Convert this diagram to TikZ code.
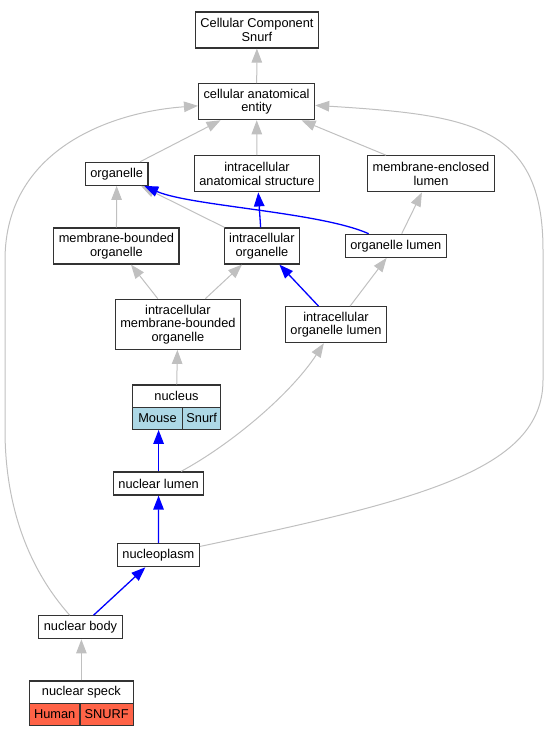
\documentclass[tikz,border=0pt]{standalone}
\usepackage{fontspec}
\setmainfont{Liberation Sans}
\usepackage{tikz}
\usetikzlibrary{arrows.meta}

\definecolor{edgegray}{RGB}{192,192,192}
\definecolor{boxline}{RGB}{51,51,51}
\definecolor{mousecell}{RGB}{173,216,230}
\definecolor{humancell}{RGB}{255,99,71}

\tikzset{
    term/.style={draw=boxline, line width=1.2pt, fill=white, align=center, inner xsep=5pt, inner ysep=0pt, minimum height=23pt, font=\fontsize{12.8}{13.6}\selectfont},
    twoline/.style={term, minimum height=36pt},
    threeline/.style={term, minimum height=50pt},
    cell/.style={term, minimum height=22pt, inner xsep=0pt},
    isa/.style={draw=edgegray, line width=1pt, -{Triangle[length=14pt,width=10.5pt]}},
    partof/.style={draw=blue, line width=1.3pt, -{Triangle[length=14pt,width=10.5pt]}}
}

\begin{document}
\begin{tikzpicture}[x=1pt,y=-1pt]
            \useasboundingbox (0,0) rectangle (549,736);
            \node[twoline] (ccs) at (257,30) {Cellular Component\\Snurf};
            \node[twoline] (cae) at (256.6,101.7) {cellular anatomical\\entity};
            \node[term] (organelle) at (116.7,173.8) {organelle};
            \node[twoline] (ias) at (257,173.8) {intracellular\\anatomical structure};
            \node[twoline] (mel) at (431,173.8) {membrane-enclosed\\lumen};
            \node[twoline] (mbo) at (116.4,246) {membrane-bounded\\organelle};
            \node[twoline] (io) at (261.9,246) {intracellular\\organelle};
            \node[term] (ol) at (395.8,245.8) {organelle lumen};
            \node[threeline] (imbo) at (177.9,324.3) {intracellular\\membrane-bounded\\organelle};
            \node[twoline] (iol) at (336,324.7) {intracellular\\organelle lumen};
            \node[term, minimum width=88.4pt, minimum height=22.3pt] (nucleus) at (176.5,396.2) {nucleus};
            \node[cell, fill=mousecell, minimum width=50.4pt] (mouse) at (157.5,418.3) {Mouse};
            \node[cell, fill=mousecell, minimum width=38pt] (snurf) at (201.7,418.3) {Snurf};
            \node[term] (nl) at (158.6,483.5) {nuclear lumen};
            \node[term] (np) at (158.4,555.2) {nucleoplasm};
            \node[term] (nb) at (80.5,627.3) {nuclear body};
            \node[term, minimum width=104pt, minimum height=22.7pt] (ns) at (81.4,692.3) {nuclear speck};
            \node[cell, fill=humancell, minimum width=50.6pt] (human) at (54.7,714.5) {Human};
            \node[cell, fill=humancell, minimum width=53.4pt] (snurfh) at (106.7,714.5) {SNURF};

            \draw[isa] (cae) -- (ccs);
            \draw[isa] (organelle) -- (cae);
            \draw[isa] (ias) -- (cae);
            \draw[isa] (mel) -- (cae);
            \draw[isa] (mbo) -- (organelle);
            \draw[isa] (io) -- (organelle);
            \draw[isa] (ol) -- (mel);
            \draw[isa] (imbo) -- (mbo);
            \draw[isa] (imbo) -- (io);
            \draw[isa] (iol) -- (ol);
            \draw[isa] (nucleus) -- (imbo);
            \draw[isa] (nl) .. controls (230,445) and (290,395) .. (iol);
            \draw[isa] (np) .. controls (420,500) and (543,470) .. (543,380) -- (543,250) .. controls (543,125) and (470,115) .. (cae);
            \draw[isa] (nb) .. controls (25,565) and (5,500) .. (5,430) -- (5,260) .. controls (5,150) and (110,112) .. (cae);
            \draw[isa] (ns.north) -- (ns.north |- nb.south);

            \draw[partof] (io) -- (ias);
            \draw[partof] (ol) .. controls (320,212) and (190,206) .. (organelle);
            \draw[partof] (iol) -- (io);
            \draw[partof] (nl) -- (nl |- mouse.south);
            \draw[partof] (np) -- (nl);
            \draw[partof] (nb) -- (np);
\end{tikzpicture}
\end{document}
